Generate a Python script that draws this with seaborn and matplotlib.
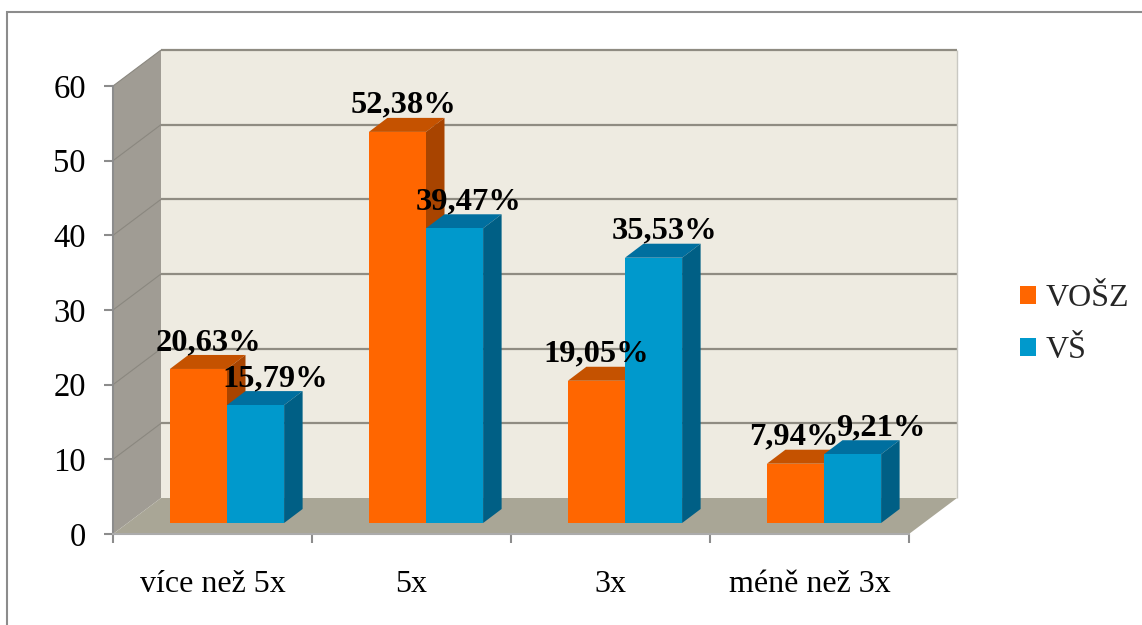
import matplotlib
matplotlib.use("Agg")
import matplotlib.pyplot as plt
from matplotlib.lines import Line2D
from matplotlib.patches import Patch, Polygon, Rectangle
from matplotlib.transforms import Affine2D, IdentityTransform
import pandas as pd
import seaborn as sns

categories = ["více než 5x", "5x", "3x", "méně než 3x"]
series_names = ["VOŠZ", "VŠ"]
vosz_values = [20.63, 52.38, 19.05, 7.94]
vs_values = [15.79, 39.47, 35.53, 9.21]
y_ticks = [0, 10, 20, 30, 40, 50, 60]

# Horizontal nudges of the value labels, in pixels from the bar centre
vosz_label_shift = [10, 6, 0, -1.5]
vs_label_shift = [20, 14.5, 11, 28.5]

FRONT_FACE = {"VOŠZ": "#FF6600", "VŠ": "#0099CC"}
TOP_FACE = {"VOŠZ": "#C55200", "VŠ": "#006F9F"}
SIDE_FACE = {"VOŠZ": "#A84400", "VŠ": "#005F85"}
WALL = "#EEEBE1"
SIDE_WALL = "#A09C94"
FLOOR = "#A9A696"
GRID = "#8F8C82"
AXIS = "#8C8C8C"

W, H, DPI = 1142, 625, 100
FONT = "Liberation Serif"

sns.set_theme(style="white")
plt.rcParams["font.family"] = [FONT, "DejaVu Sans"]

fig = plt.figure(figsize=(W / DPI, H / DPI), dpi=DPI, facecolor="white")
ax = fig.add_axes([113 / W, 1 - 534 / H, (909 - 113) / W, (534 - 86) / H])
ax.patch.set_visible(False)

df = pd.DataFrame({
    "kategorie": categories * 2,
    "skupina": [series_names[0]] * 4 + [series_names[1]] * 4,
    "hodnota": vosz_values + vs_values,
})
sns.barplot(data=df, x="kategorie", y="hodnota", hue="skupina", order=categories,
            hue_order=series_names, palette=FRONT_FACE, saturation=1, width=0.574,
            linewidth=0, legend=False, ax=ax)
ax.set_xlim(-0.5, 3.5)
ax.set_ylim(0, 60)
ax.set_xlabel("")
ax.set_ylabel("")

# Pixel offsets of the pseudo-3D projection
WALL_DX, WALL_DY = 48, 36
BAR_DX, BAR_DY = 14.5, 11
DEPTH_DX, DEPTH_DY = 18.5, 14


def project(x, y, dx=0.0, dy=0.0):
    px, py = ax.transData.transform((x, y))
    return (px + dx, py + dy)


def face(points, color, zorder, edge="none"):
    ax.add_patch(Polygon(points, closed=True, facecolor=color, edgecolor=edge, linewidth=0,
                         transform=IdentityTransform(), clip_on=False, zorder=zorder))


# Chart box: back wall, side wall and floor
x0, x1 = -0.5, 3.5
face([project(x0, 0, WALL_DX, WALL_DY), project(x1, 0, WALL_DX, WALL_DY),
      project(x1, 60, WALL_DX, WALL_DY), project(x0, 60, WALL_DX, WALL_DY)], WALL, 0.1)
face([project(x0, 0), project(x0, 0, WALL_DX, WALL_DY),
      project(x0, 60, WALL_DX, WALL_DY), project(x0, 60)], SIDE_WALL, 0.2)
face([project(x0, 0), project(x1, 0),
      project(x1, 0, WALL_DX, WALL_DY), project(x0, 0, WALL_DX, WALL_DY)], FLOOR, 0.3)


def box_line(points, color, lw):
    xs, ys = zip(*points)
    ax.add_line(Line2D(xs, ys, color=color, linewidth=lw, transform=IdentityTransform(),
                       clip_on=False, zorder=0.5, solid_capstyle="butt"))


for tick in y_ticks[1:]:
    back_left = project(x0, tick, WALL_DX, WALL_DY)
    back_right = project(x1, tick, WALL_DX, WALL_DY)
    box_line([back_left, back_right], GRID, 1.6)
    box_line([project(x0, tick), back_left], "#8A877F", 0.8)
box_line([project(x1, 0, WALL_DX, WALL_DY), project(x1, 60, WALL_DX, WALL_DY)], "#C9C8C2", 1.0)

# Extrude each bar; later bars overlap the depth faces of earlier ones
bars = list(ax.patches)
bars = [b for b in bars if isinstance(b, Rectangle) and b.get_height() > 0][:8]
bars.sort(key=lambda b: b.get_x())
bar_shift = Affine2D().translate(BAR_DX, BAR_DY)
for order, bar in enumerate(bars):
    name = series_names[order % 2]
    left, right = bar.get_x(), bar.get_x() + bar.get_width()
    top = bar.get_height()
    z = 2 + order * 0.1
    bar.set_transform(ax.transData + bar_shift)
    bar.set_clip_on(False)
    bar.set_zorder(z + 0.02)
    fx, fy = BAR_DX + DEPTH_DX, BAR_DY + DEPTH_DY
    face([project(left, top, BAR_DX, BAR_DY), project(right, top, BAR_DX, BAR_DY),
          project(right, top, fx, fy), project(left, top, fx, fy)], TOP_FACE[name], z)
    face([project(right, 0, BAR_DX, BAR_DY), project(right, 0, fx, fy),
          project(right, top, fx, fy), project(right, top, BAR_DX, BAR_DY)], SIDE_FACE[name], z)

# Value labels with decimal commas
label_shift = [s for pair in zip(vosz_label_shift, vs_label_shift) for s in pair]
for bar, shift in zip(bars, label_shift):
    value = bar.get_height()
    cx = bar.get_x() + bar.get_width() / 2
    ax.annotate(f"{value:.2f}%".replace(".", ","), xy=project(cx, value, BAR_DX + shift, BAR_DY + 26.5),
                xycoords="figure pixels", ha="center", va="center", fontsize=23.4,
                fontweight="bold", color="black", zorder=5, annotation_clip=False)

# Axes, ticks and tick labels
for side in ("top", "right"):
    ax.spines[side].set_visible(False)
for side in ("left", "bottom"):
    ax.spines[side].set_color(AXIS)
    ax.spines[side].set_linewidth(1.5)
    ax.spines[side].set_zorder(1)
ax.spines["bottom"].set_color("#ABABAB")

ax.set_yticks(y_ticks)
ax.set_xticks(range(len(categories)))
ax.set_xticklabels(categories)
ax.set_xticks([-0.5, 0.5, 1.5, 2.5, 3.5], minor=True)
ax.tick_params(axis="y", which="major", left=True, length=6.5, width=1.5, color=AXIS,
               pad=13, labelsize=23.5, labelcolor="black")
ax.tick_params(axis="x", which="major", bottom=False, length=0, pad=26, labelsize=23,
               labelcolor="black")
ax.tick_params(axis="x", which="minor", bottom=True, length=6.5, width=1.5, color=AXIS)

legend_handles = [Patch(facecolor=FRONT_FACE[n], edgecolor="none", label=n) for n in series_names]
fig.legend(handles=legend_handles, loc="center left", bbox_to_anchor=(1010.5 / W, 1 - 325 / H),
           frameon=False, fontsize=23, handlelength=0.5, handleheight=0.5,
           handletextpad=0.3, labelspacing=0.72, borderpad=0.3, borderaxespad=0)

# Outer frame, cut off by the right and lower picture edges
fig.add_artist(Line2D([7 / W, 7 / W, 1], [0, 1 - 11.5 / H, 1 - 11.5 / H], color="#8C8C8C",
                      linewidth=1.5, transform=fig.transFigure, solid_joinstyle="miter"))

fig.savefig("out.png", dpi=DPI, facecolor="white")
